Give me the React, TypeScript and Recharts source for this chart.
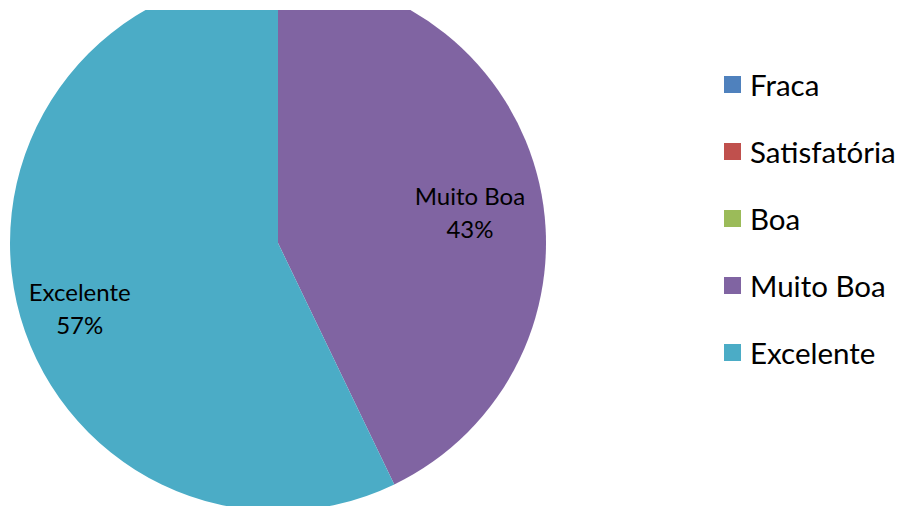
import { PieChart, Pie, Cell, Legend } from "recharts";

const categories = ["Fraca", "Satisfatória", "Boa", "Muito Boa", "Excelente"];
const counts = [0, 0, 0, 3, 4];
const colors = ["#4F81BD", "#C0504D", "#9BBB59", "#8064A2", "#4BACC6"];

const data = categories.map((name, i) => ({ name, value: counts[i] }));
const total = counts.reduce((a, b) => a + b, 0);

const FONT = "Lato, 'Open Sans', sans-serif";
const RAD = Math.PI / 180;

// Excel "best fit" puts the labels a bit off the mid angle
const labelShift: Record<string, { r: number; da: number }> = {
  "Muito Boa": { r: 0.725, da: -4 },
  Excelente: { r: 0.78, da: 5.6 },
};

function renderLabel(props: any) {
  const { cx, cy, midAngle, outerRadius, value, name } = props;
  if (!value) return null;
  const s = labelShift[name] || { r: 0.7, da: 0 };
  const a = (midAngle + s.da) * RAD;
  const x = cx + outerRadius * s.r * Math.cos(a);
  const y = cy - outerRadius * s.r * Math.sin(a);
  const pct = Math.round((value / total) * 100);
  return (
    <text
      x={x}
      y={y}
      textAnchor="middle"
      fontFamily={FONT}
      fontSize={24}
      fill="#000"
    >
      <tspan x={x} dy={-8}>
        {name}
      </tspan>
      <tspan x={x} dy={33}>
        {pct}%
      </tspan>
    </text>
  );
}

function LegendBox() {
  return (
    <div style={{ fontFamily: FONT }}>
      {categories.map((c, i) => (
        <div
          key={c}
          style={{ display: "flex", alignItems: "center", height: 67 }}
        >
          <span
            style={{
              width: 17,
              height: 17,
              background: colors[i],
              display: "inline-block",
              marginRight: 9,
            }}
          />
          <span style={{ fontSize: 29.5, color: "#000" }}>{c}</span>
        </div>
      ))}
    </div>
  );
}

export default function App() {
  return (
    <div
      style={{
        position: "absolute",
        top: 0,
        left: 0,
        width: 902,
        height: 506,
        background: "#fff",
        overflow: "hidden",
      }}
    >
      <div
        style={{
          position: "absolute",
          top: 10,
          left: 0,
          width: 902,
          height: 496,
          overflow: "hidden",
        }}
      >
        <div style={{ position: "absolute", top: -40, left: 0 }}>
          <PieChart
            width={902}
            height={580}
            margin={{ top: 0, right: 0, bottom: 0, left: 0 }}
          >
            <Pie
              data={data}
              dataKey="value"
              nameKey="name"
              cx={278}
              cy={273}
              outerRadius={268}
              startAngle={90}
              endAngle={-270}
              stroke="none"
              label={renderLabel}
              labelLine={false}
              isAnimationActive={false}
            >
              {data.map((d, i) => (
                <Cell key={d.name} fill={colors[i]} />
              ))}
            </Pie>
            <Legend
              layout="vertical"
              verticalAlign="middle"
              align="right"
              content={<LegendBox />}
              wrapperStyle={{ position: "absolute", top: 81, left: 724, width: 178 }}
            />
          </PieChart>
        </div>
      </div>
    </div>
  );
}
